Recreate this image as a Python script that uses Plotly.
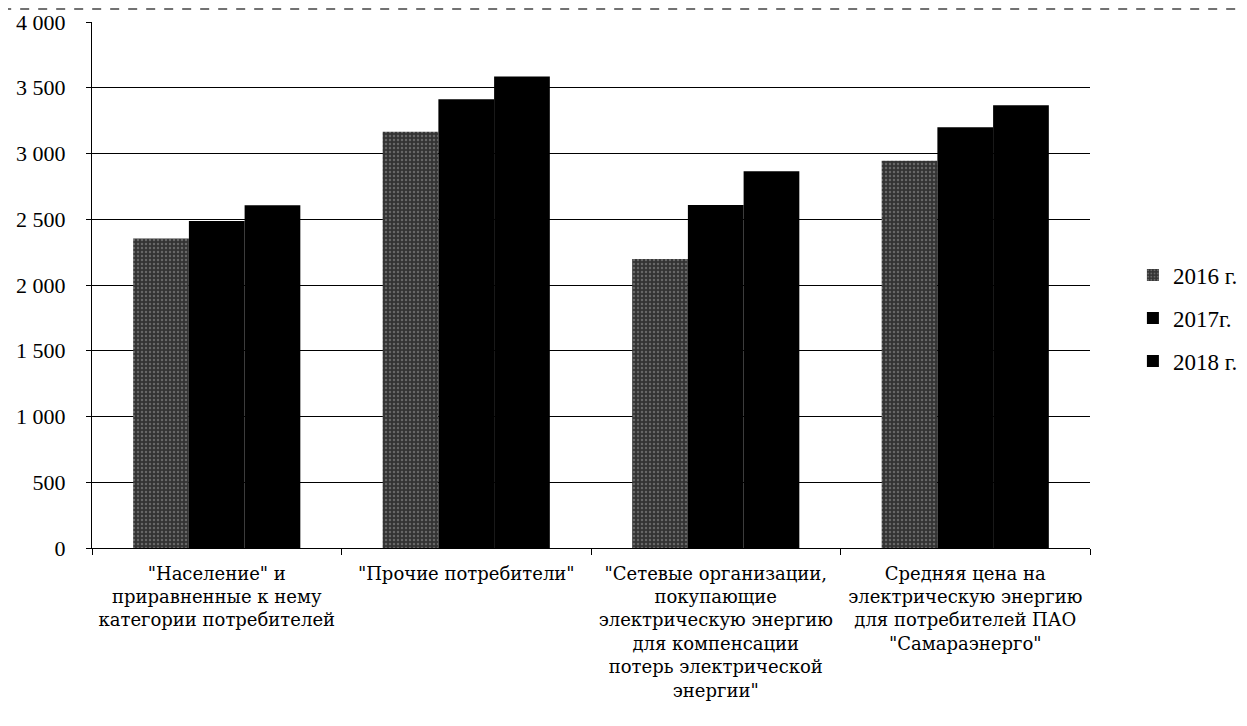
import plotly.graph_objects as go

categories = [
    "\"Население\" и<br>приравненные к нему<br>категории потребителей",
    "\"Прочие потребители\"",
    "\"Сетевые организации,<br>покупающие<br>электрическую энергию<br>для компенсации<br>потерь электрической<br>энергии\"",
    "Средняя цена на<br>электрическую энергию<br>для потребителей ПАО<br>\"Самараэнерго\"",
]
series_names = ["2016 г.", "2017г.", "2018 г."]
values_2016 = [2353, 3165, 2197, 2945]
values_2017 = [2487, 3412, 2608, 3200]
values_2018 = [2606, 3585, 2865, 3367]
y_ticks = [0, 500, 1000, 1500, 2000, 2500, 3000, 3500, 4000]

FONT = "Liberation Serif"
CAT_FONT = "DejaVu Serif"

fig = go.Figure()
fig.add_trace(go.Bar(
    x=categories, y=values_2016, name=series_names[0], legendgroup="a",
    marker=dict(color="#444444", line=dict(width=0),
                pattern=dict(shape=".", bgcolor="#333333", fgcolor="#9a9a9a",
                             size=4, solidity=0.3)),
))
fig.add_trace(go.Bar(
    x=categories, y=values_2017, name=series_names[1], legendgroup="b",
    marker=dict(color="#000000", line=dict(width=0)),
))
fig.add_trace(go.Bar(
    x=categories, y=values_2018, name=series_names[2], legendgroup="c",
    marker=dict(color="#000000", line=dict(width=0)),
))

fig.update_layout(
    width=1239, height=718,
    margin=dict(l=84, r=157, t=14, b=178, autoexpand=False),
    plot_bgcolor="white", paper_bgcolor="white",
    font=dict(family=FONT, color="black", size=19),
    barmode="group", bargap=0.33, bargroupgap=0,
    separators=", ",
    showlegend=True,
    legend=dict(x=1.043, xanchor="left", y=0.437, yanchor="middle",
                font=dict(family=FONT, size=23, color="black"),
                tracegroupgap=10, itemwidth=30, bgcolor="rgba(0,0,0,0)"),
    xaxis=dict(
        type="category", showgrid=False, showline=True, linecolor="black",
        linewidth=1, ticks="outside", tickson="boundaries", ticklen=6,
        tickcolor="black", tickfont=dict(family=CAT_FONT, size=18, color="black"),
        ticklabelstandoff=9, automargin=False,
    ),
    yaxis=dict(
        range=[0, 4000], tickvals=y_ticks, tickformat=",d",
        showgrid=True, gridcolor="black", gridwidth=1,
        showline=True, linecolor="black", linewidth=1,
        ticks="outside", ticklen=5, tickcolor="black",
        tickfont=dict(family=FONT, size=22, color="black"),
        ticklabelstandoff=16, zeroline=False, automargin=False,
    ),
    shapes=[dict(type="line", xref="paper", yref="paper", x0=-0.09, x1=1.16,
                 y0=1.0247, y1=1.0247,
                 line=dict(color="#444444", width=1.5, dash="dash"))],
)

fig.write_html("out.html")
